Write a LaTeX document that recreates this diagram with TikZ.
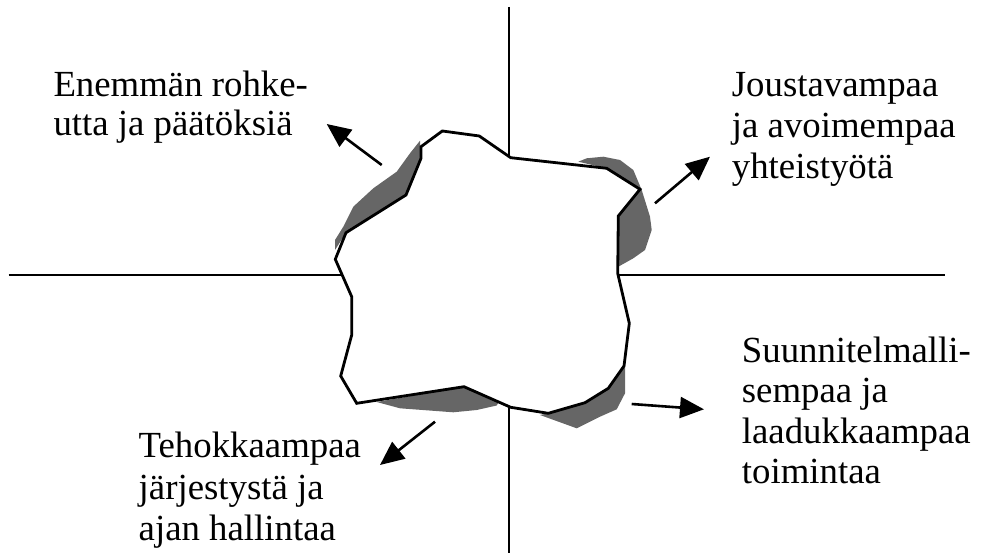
\documentclass[tikz,border=0pt]{standalone}
\usepackage{fontspec}
\setmainfont{Liberation Serif}
\usetikzlibrary{arrows.meta}
\definecolor{shadegray}{gray}{0.4}
\newcommand\TextSize[1]{\fontsize{36.8}{#1}\selectfont}

\begin{document}
\begin{tikzpicture}[x=1pt,y=-1pt,
    label text/.style={anchor=base west,inner sep=0pt,align=left},
    push/.style={line width=2.6pt,-{Triangle[length=24pt,width=21pt]}},
    shadow part/.style={fill=shadegray,draw=none}]
    \useasboundingbox (0,0) rectangle (981,553);
    % axes
    \draw[line width=2pt] (8.7,275.3) coordinate(Left) -- (945,275.3) coordinate(Right);
    \draw[line width=2pt] (509.3,7) coordinate(Top) -- (509.3,553) coordinate(Bottom);
    % shadows of the change
    \fill[shadow part] (420,140.7) -- (410,153.3) -- (396.7,171.7) -- (373.3,188.3) -- (353.3,206.7)
        -- (343.3,226.7) -- (335,240) -- (335,250) -- (346,232.7) -- (406,195) -- (421,158.3) -- cycle;
    \fill[shadow part] (578.3,161.7) -- (586.7,158.3) -- (603.3,156.7) -- (620,160) -- (633.3,170)
        -- (641.7,190) -- (650,216.7) -- (651.7,230) -- (645,250) -- (633.3,258.3) -- (618.3,266.7)
        -- (618.3,216) -- (640,189.3) -- (606.7,168.3) -- cycle;
    \fill[shadow part] (624,366) -- (625,365) -- (625,393.3) -- (616.7,409.3) -- (600,416.7)
        -- (576.7,428.3) -- (540,415) -- (548.3,413.3) -- (585,402.7) -- (608.3,388.3) -- cycle;
    \fill[shadow part] (376.7,402) -- (400,408.3) -- (453.3,412.3) -- (476.7,410) -- (496.7,405.5)
        -- (500,400) -- (464,386.7) -- cycle;
    % the present state
    \draw[line width=2.8pt,fill=white,line join=miter] (442.3,131) -- (479.3,136) -- (510.7,157.7)
        -- (606.7,168.3) -- (640,189.3) -- (618.3,216) -- (617.7,273.3) -- (629.3,323.3) -- (624,366)
        -- (608.3,388.3) -- (585,402.7) -- (548.3,413.3) -- (510.7,407.3) -- (464,386.7) -- (356.7,403.3)
        -- (340.7,376) -- (351.7,335) -- (351.7,296.7) -- (335.3,259.3) -- (346,232.7) -- (406,195)
        -- (421,158.3) -- (421,146.7) -- cycle;
    % directions (placed at the baseline of the last line)
    \node[label text,font=\TextSize{38.5}] (rohkeus) at (53.3,135.2) {Enemmän rohke-\\utta ja päätöksiä};
    \node[label text,font=\TextSize{40.8}] (joustavuus) at (731.7,178.3) {Joustavampaa\\ja avoimempaa\\yhteistyötä};
    \node[label text,font=\TextSize{41.7}] (tehokkuus) at (138.5,540.7) {Tehokkaampaa\\järjestystä ja\\ajan hallintaa};
    \node[label text,font=\TextSize{40.2}] (laatu) at (741.7,483.3) {Suunnitelmalli-\\sempaa ja\\laadukkaampaa\\toimintaa};
    \coordinate (rohkeusFrom) at (381.7,165);
    \coordinate (rohkeusTo) at (326.7,124);
    \coordinate (joustavuusFrom) at (655,203.3);
    \coordinate (joustavuusTo) at (710,156.7);
    \coordinate (tehokkuusFrom) at (435,421.7);
    \coordinate (tehokkuusTo) at (380,465);
    \coordinate (laatuFrom) at (631.7,404);
    \coordinate (laatuTo) at (704,409.3);
    \draw[push] (rohkeusFrom) -- (rohkeusTo);
    \draw[push] (joustavuusFrom) -- (joustavuusTo);
    \draw[push] (tehokkuusFrom) -- (tehokkuusTo);
    \draw[push] (laatuFrom) -- (laatuTo);
\end{tikzpicture}
\end{document}
